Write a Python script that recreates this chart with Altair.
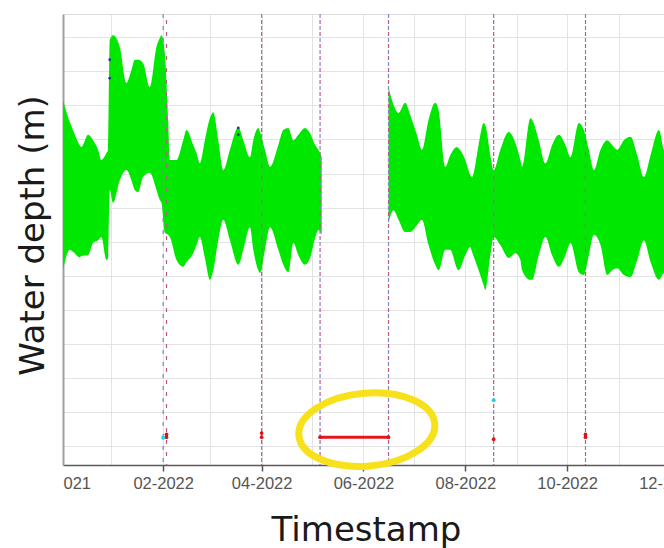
import altair as alt
import pandas as pd

# ---- green water-depth envelope (upper / lower extent of the tidal signal), metres ----
seg1_dates = ["2021-12-03", "2021-12-07", "2021-12-09", "2021-12-13", "2021-12-14", "2021-12-18",
              "2021-12-21", "2021-12-24", "2021-12-26", "2021-12-29", "2021-12-30", "2021-12-31",
              "2022-01-02", "2022-01-06", "2022-01-10", "2022-01-13", "2022-01-15", "2022-01-17",
              "2022-01-20", "2022-01-24", "2022-01-28", "2022-01-30", "2022-01-31", "2022-02-02",
              "2022-02-04", "2022-02-05", "2022-02-09", "2022-02-13", "2022-02-15", "2022-02-19",
              "2022-02-21", "2022-02-23", "2022-02-26", "2022-03-01", "2022-03-03", "2022-03-06",
              "2022-03-09", "2022-03-13", "2022-03-18", "2022-03-21", "2022-03-25", "2022-03-27",
              "2022-03-30", "2022-03-31", "2022-04-03", "2022-04-06", "2022-04-11", "2022-04-14",
              "2022-04-17", "2022-04-20", "2022-04-23", "2022-04-27", "2022-04-30", "2022-05-03",
              "2022-05-05", "2022-05-07"]
seg1_upper = [6.08, 5.76, 5.64, 5.42, 5.39, 5.57, 5.49, 5.35, 5.20, 5.30, 5.35, 6.96,
              7.03, 6.86, 6.33, 6.52, 6.67, 6.67, 6.62, 6.27, 6.86, 6.99, 7.03, 6.77,
              5.79, 5.20, 5.20, 5.49, 5.64, 5.42, 5.30, 5.15, 5.49, 5.81, 5.90, 5.49,
              5.05, 5.35, 5.68, 5.49, 5.24, 5.49, 5.67, 5.61, 5.35, 5.10, 5.42, 5.64,
              5.67, 5.49, 5.57, 5.67, 5.59, 5.42, 5.35, 5.24]
seg1_lower = [3.58, 3.88, 3.85, 3.77, 3.79, 3.80, 3.98, 4.02, 4.07, 3.73, 3.76, 4.76,
              4.57, 4.90, 5.05, 4.90, 4.76, 4.73, 4.95, 5.01, 4.76, 4.61, 4.57, 4.13,
              4.10, 4.07, 3.73, 3.63, 3.70, 3.83, 3.95, 4.07, 3.76, 3.44, 3.58, 4.02,
              4.32, 4.02, 3.66, 3.88, 4.21, 3.88, 3.58, 3.54, 3.88, 4.21, 3.88, 3.66,
              3.55, 3.98, 3.80, 3.66, 3.76, 4.05, 4.17, 4.10]

seg2_dates = ["2022-06-16", "2022-06-19", "2022-06-22", "2022-06-26", "2022-06-29", "2022-07-03",
              "2022-07-06", "2022-07-10", "2022-07-14", "2022-07-16", "2022-07-20", "2022-07-23",
              "2022-07-27", "2022-07-28", "2022-08-01", "2022-08-04", "2022-08-05", "2022-08-09",
              "2022-08-12", "2022-08-13", "2022-08-16", "2022-08-18", "2022-08-22", "2022-08-27",
              "2022-08-31", "2022-09-03", "2022-09-04", "2022-09-09", "2022-09-10", "2022-09-14",
              "2022-09-18", "2022-09-22", "2022-09-26", "2022-09-30", "2022-10-03", "2022-10-08",
              "2022-10-11", "2022-10-14", "2022-10-17", "2022-10-21", "2022-10-25", "2022-10-28",
              "2022-10-31", "2022-11-04", "2022-11-08", "2022-11-12", "2022-11-16", "2022-11-20",
              "2022-11-25", "2022-11-28", "2022-11-30"]
seg2_upper = [6.27, 6.01, 5.89, 6.04, 5.86, 5.57, 5.35, 5.79, 6.04, 5.93, 5.10, 5.27,
              5.39, 5.37, 5.20, 4.98, 4.95, 5.42, 5.74, 5.71, 5.27, 5.05, 5.35, 5.61,
              5.45, 5.20, 5.10, 5.81, 5.79, 5.49, 5.15, 5.42, 5.57, 5.42, 5.24, 5.74,
              5.64, 5.35, 5.05, 5.35, 5.49, 5.42, 5.35, 5.49, 5.54, 5.27, 4.95, 5.27,
              5.64, 5.35, 5.32]
seg2_lower = [4.27, 4.46, 4.32, 4.14, 4.14, 4.24, 4.32, 3.95, 3.66, 3.58, 3.88, 3.88,
              3.61, 3.58, 3.80, 3.92, 3.85, 3.58, 3.36, 3.29, 3.80, 4.07, 3.95, 3.76,
              3.83, 3.73, 3.58, 3.44, 3.44, 3.80, 4.07, 3.80, 3.63, 3.80, 3.98, 3.55,
              3.51, 3.80, 4.10, 3.95, 3.51, 3.58, 3.61, 3.51, 3.48, 3.73, 4.02, 3.70,
              3.44, 3.54, 3.55]

# ---- event markers ----
blue_line_dates = ["2022-02-01", "2022-04-01", "2022-05-06", "2022-06-16", "2022-08-18", "2022-10-12"]
red_line_dates = ["2022-02-03", "2022-04-01", "2022-05-06", "2022-06-16", "2022-08-18", "2022-10-12"]
red_pt_dates = ["2022-02-03", "2022-02-03", "2022-04-01", "2022-04-01", "2022-08-18", "2022-10-12", "2022-10-12"]
red_pt_depth = [1.13, 1.17, 1.13, 1.19, 1.10, 1.13, 1.17]
cyan_pt_dates = ["2022-02-01", "2022-08-18"]
cyan_pt_depth = [1.12, 1.67]
navy_pt_dates = ["2021-12-31", "2021-12-31", "2022-03-18", "2022-03-18"]
navy_pt_depth = [6.67, 6.40, 5.67, 5.57]
gap_dates = ["2022-05-06", "2022-06-16"]
gap_depth = [1.13, 1.13]
ring_dates = ["2022-06-03"]
ring_depth = [1.24]

# ---- axis ticks ----
month_ticks = [alt.DateTime(year=2021, month=12, date=3, utc=True)] + \
              [alt.DateTime(year=2022, month=m, date=1, utc=True) for m in range(1, 13)]
depth_grid = [1.0, 1.5, 2.0, 2.5, 3.0, 3.5, 4.0, 4.5, 5.0, 5.5, 6.0, 6.5, 7.0]

env = pd.concat([
    pd.DataFrame({"date": seg1_dates, "upper": seg1_upper, "lower": seg1_lower, "seg": "a"}),
    pd.DataFrame({"date": seg2_dates, "upper": seg2_upper, "lower": seg2_lower, "seg": "b"}),
])

xscale = alt.Scale(type="utc", nice=False,
                   domain=[alt.DateTime(year=2021, month=12, date=3, utc=True),
                           alt.DateTime(year=2022, month=12, date=19, utc=True)])
yscale = alt.Scale(domain=[0.721, 7.342], nice=False, zero=False)

first_test = "datum.value < utc(2022, 0, 1)"
xaxis = alt.Axis(
    values=month_ticks, title="Timestamp", grid=True, gridColor="#e3e3e3", gridWidth=1,
    labelExpr=f"{first_test} ? '021' : (utcmonth(datum.value) % 2 == 1 ? utcFormat(datum.value, '%m-%Y') : '')",
    labelAlign={"condition": {"test": first_test, "value": "left"}, "value": "center"},
    tickOpacity={"condition": {"test": f"!({first_test}) && utcmonth(datum.value) % 2 == 1", "value": 1}, "value": 0},
    tickSize=6, tickWidth=1.5, tickColor="#555555",
    domainColor="#5a5a5a", domainWidth=1.5,
    labelFont="Liberation Sans", labelFontSize=16.5, labelColor="#555555", labelPadding=4,
    labelOverlap=False, labelFlush=False, labelBound=False,
    titleFont="DejaVu Sans", titleFontSize=34, titleFontWeight="normal", titleColor="#1a1a1a",
    titleX=303, titleY=75, titleBaseline="alphabetic", titleAlign="center",
)
yaxis = alt.Axis(
    values=depth_grid, labels=False, ticks=False, grid=True, gridColor="#e3e3e3", gridWidth=1,
    domain=True, domainColor="#a0a0a0", domainWidth=2,
    title="Water depth (m)", titleFont="DejaVu Sans", titleFontSize=34, titleFontWeight="normal",
    titleColor="#1a1a1a", titleAngle=270, titleX=-30, titleY=221, titleAlign="center",
    titleBaseline="middle",
)


def X(field):
    return alt.X(f"{field}:T", scale=xscale, axis=xaxis)


def Y(field):
    return alt.Y(f"{field}:Q", scale=yscale, axis=yaxis)


area = alt.Chart(env).mark_area(color="#00e800", interpolate="monotone", opacity=1).encode(
    x=X("date"), y=Y("upper"), y2=alt.Y2("lower:Q"), detail="seg:N")

blue_rules = alt.Chart(pd.DataFrame({"d": blue_line_dates})).mark_rule(
    color="#8383cf", strokeWidth=1.2, strokeDash=[4, 8]).encode(x=X("d"))
red_rules = alt.Chart(pd.DataFrame({"d": red_line_dates})).mark_rule(
    color="#b85c84", strokeWidth=1.2, strokeDash=[4, 8], strokeDashOffset=6).encode(x=X("d"))

navy_pts = alt.Chart(pd.DataFrame({"d": navy_pt_dates, "v": navy_pt_depth})).mark_circle(
    color="#1a3a8a", size=8, opacity=1).encode(x=X("d"), y=Y("v"))

gap_line = alt.Chart(pd.DataFrame({"d": gap_dates, "v": gap_depth})).mark_line(
    color="#e3161c", strokeWidth=3).encode(x=X("d"), y=Y("v"))
red_pts = alt.Chart(pd.DataFrame({"d": red_pt_dates + gap_dates, "v": red_pt_depth + gap_depth})).mark_circle(
    color="#d9141a", size=14, opacity=1).encode(x=X("d"), y=Y("v"))
cyan_pts = alt.Chart(pd.DataFrame({"d": cyan_pt_dates, "v": cyan_pt_depth})).mark_circle(
    color="#22d3e6", size=16, opacity=1).encode(x=X("d"), y=Y("v"))

ring = alt.Chart(pd.DataFrame({"d": ring_dates, "v": ring_depth})).mark_point(
    shape="M-1,0 A1,0.535 0 1,1 1,0 A1,0.535 0 1,1 -1,0 Z",
    size=18605, filled=False, stroke="#f7e11b", strokeWidth=7, opacity=1, angle=355,
).encode(x=X("d"), y=Y("v"))

chart = alt.layer(area, blue_rules, red_rules, navy_pts, gap_line, red_pts, cyan_pts, ring).properties(
    width=636, height=451,
    autosize=alt.AutoSizeParams(type="none"),
    padding={"left": 63, "top": 14, "right": -35, "bottom": 83},
).configure_view(stroke="#b8b8b8", strokeWidth=1).configure(background="white")

chart.save("out.html", embed_options={"renderer": "svg", "actions": False})
